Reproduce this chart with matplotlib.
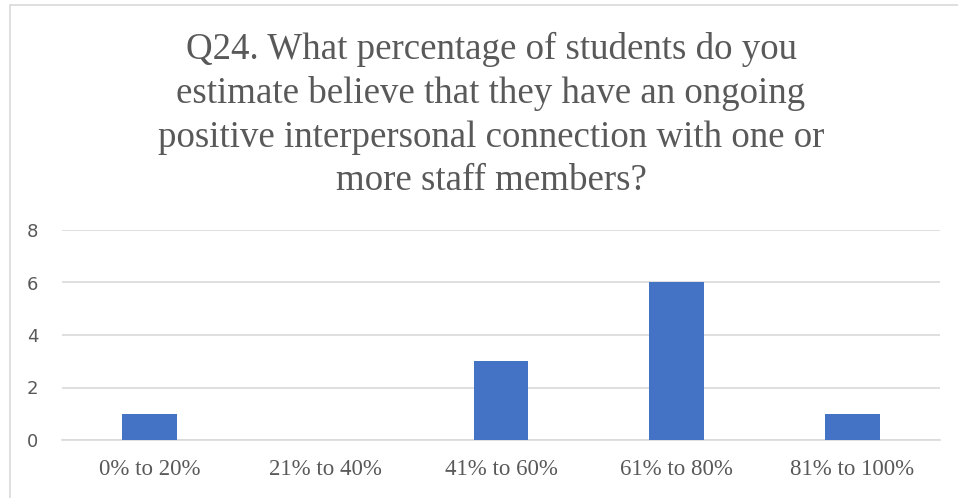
import matplotlib.pyplot as plt
from matplotlib.patches import Rectangle

categories = ["0% to 20%", "21% to 40%", "41% to 60%", "61% to 80%", "81% to 100%"]
counts = [1, 0, 3, 6, 1]
yticks = [0, 2, 4, 6, 8]

title = ("Q24. What percentage of students do you\n"
         "estimate believe that they have an ongoing\n"
         "positive interpersonal connection with one or\n"
         "more staff members?")

text_grey = "#595959"
grid_grey = "#D9D9D9"
bar_blue = "#4472C4"

fig = plt.figure(figsize=(9.58, 4.98), dpi=100)
# plot area in figure pixels: x 62..940, y 230..440 (from top)
ax = fig.add_axes([62 / 958, 1 - 440 / 498, 878 / 958, 210 / 498])

x = range(len(categories))
ax.bar(x, counts, width=0.313, color=bar_blue, zorder=3)
ax.set_xlim(-0.5, len(categories) - 0.5)
ax.set_ylim(0, 8)
ax.set_yticks(yticks)
ax.set_xticks(list(x))
ax.set_xticklabels(categories, family="Liberation Serif", fontsize=16.5, color=text_grey)
for lbl in ax.get_yticklabels():
    lbl.set_family("DejaVu Sans")
    lbl.set_fontsize(13)
    lbl.set_color(text_grey)

ax.grid(axis="y", color=grid_grey, linewidth=1.2, zorder=0)
ax.tick_params(axis="both", length=0)
ax.tick_params(axis="y", pad=17)
ax.tick_params(axis="x", pad=14)
for side in ["top", "right", "left"]:
    ax.spines[side].set_visible(False)
ax.spines["bottom"].set_color(grid_grey)
ax.spines["bottom"].set_linewidth(1.2)

fig.text(491 / 958, 1 - 32 / 498, title, ha="center", va="top",
         family="Liberation Serif", fontsize=26.6, color=text_grey, linespacing=1.34)

# chart frame
fig.patches.append(Rectangle((10 / 958, -0.01), 1.2, 1 - 5 / 498 + 0.01,
                             transform=fig.transFigure, fill=False,
                             edgecolor=grid_grey, linewidth=1.2))

fig.savefig("out.png", dpi=100)
